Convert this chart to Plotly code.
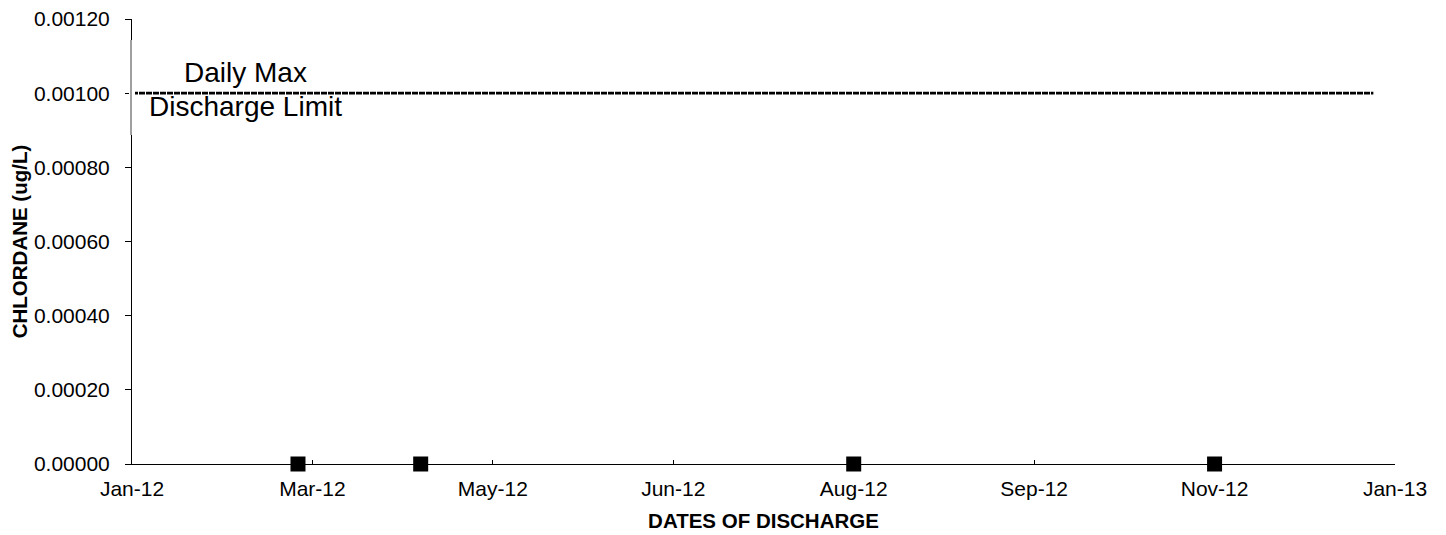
import plotly.graph_objects as go
from datetime import date, timedelta

# Data
sample_dates = ["2012-03-09", "2012-04-12", "2012-08-10", "2012-11-18"]
chlordane_values = [0.0, 0.0, 0.0, 0.0]
limit_dates = ["2012-01-23", "2013-01-01"]
limit_values = [0.001, 0.001]
tick_start = date(2012, 1, 23)
tick_step_days = 50
n_ticks = 8
y_ticks = [0, 0.0002, 0.0004, 0.0006, 0.0008, 0.0010, 0.0012]

tick_vals = [(tick_start + timedelta(days=tick_step_days * i)).isoformat() for i in range(n_ticks)]

# page has an 8px body margin; plot area should span page x 132..1395, y 19..464
OFF = 8
W, H = 1446 - OFF, 535 - OFF
PL, PR, PT, PB = 132, 1395, 19, 464

fig = go.Figure()
fig.add_trace(go.Scatter(x=limit_dates, y=limit_values, mode="lines",
                         line=dict(color="black", width=2.6, dash="6px,1px"),
                         showlegend=False, hoverinfo="skip"))
fig.add_trace(go.Scatter(x=sample_dates, y=chlordane_values, mode="markers",
                         marker=dict(symbol="square", size=15, color="black"),
                         showlegend=False, cliponaxis=False))

font = dict(family="Arial, Liberation Sans, sans-serif", color="black")

fig.update_layout(
    width=W, height=H,
    margin=dict(l=PL - OFF, r=1446 - PR, t=PT - OFF, b=535 - PB, autoexpand=False),
    plot_bgcolor="white", paper_bgcolor="white",
    font=font,
    xaxis=dict(range=[tick_vals[0], tick_vals[-1]], tickvals=tick_vals, tickformat="%b-%y",
               showgrid=False, zeroline=False, showline=True, linecolor="black", linewidth=1,
               ticks="inside", ticklen=4, tickcolor="black",
               ticklabelstandoff=6, ticklabeloverflow="allow",
               tickfont=dict(size=21, **font),
               title=dict(text="<b>DATES OF DISCHARGE</b>", font=dict(size=20.5, **font), standoff=14)),
    yaxis=dict(range=[0, 0.0012], tickvals=y_ticks, tickformat=".5f",
               showgrid=False, zeroline=False, showline=True, linecolor="black", linewidth=1,
               ticks="outside", ticklen=6, tickcolor="black",
               ticklabelstandoff=11, ticklabeloverflow="allow",
               tickfont=dict(size=21, **font),
               title=dict(text="<b>CHLORDANE (ug/L)</b>", font=dict(size=20.5, **font), standoff=8)),
)

def px_x(x):
    return (x - PL) / (PR - PL)

def px_y(y):
    return 1 - (y - PT) / (PB - PT)

# Label box covering part of the y axis
fig.add_shape(type="rect", xref="paper", yref="paper",
              x0=px_x(129), x1=px_x(135), y0=px_y(135), y1=px_y(40),
              fillcolor="white", line=dict(width=0), layer="above")
fig.add_shape(type="line", xref="paper", yref="paper",
              x0=px_x(131), x1=px_x(131), y0=px_y(135), y1=px_y(40),
              line=dict(color="gray", width=1.5), layer="above")
fig.add_annotation(x=px_x(245), y=px_y(72), xref="paper", yref="paper",
                   xanchor="center", yanchor="middle",
                   text="Daily Max", showarrow=False, font=dict(size=28, **font))
fig.add_annotation(x=px_x(245), y=px_y(107), xref="paper", yref="paper",
                   xanchor="center", yanchor="middle",
                   text="Discharge Limit", showarrow=False, font=dict(size=28, **font))

fig.write_html("out.html")
